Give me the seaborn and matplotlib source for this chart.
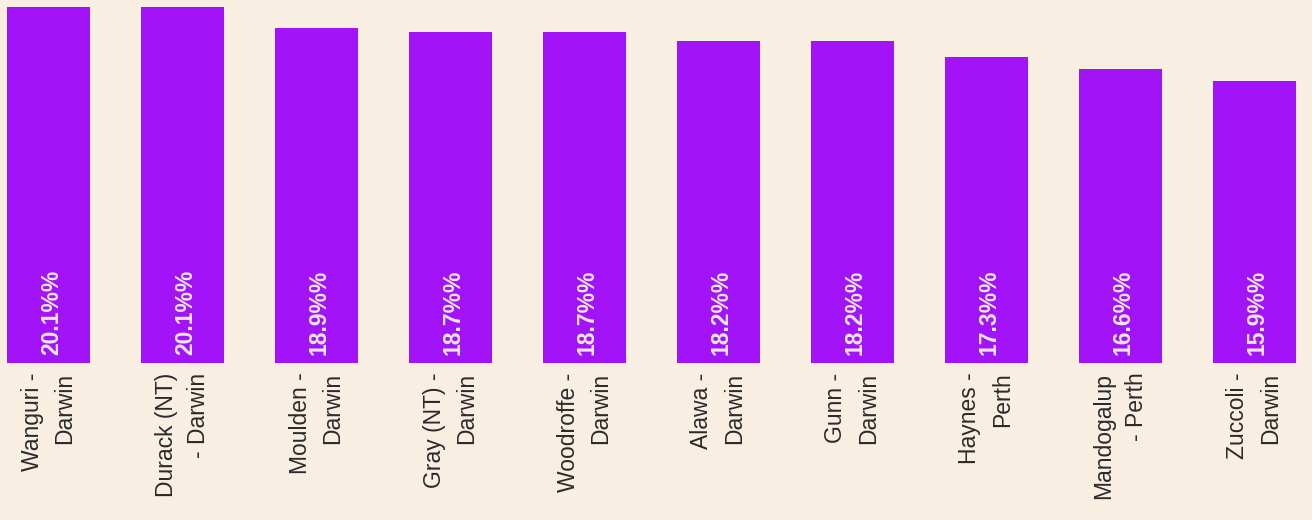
import matplotlib
matplotlib.use("Agg")
import matplotlib.pyplot as plt
import seaborn as sns
import pandas as pd

suburbs = [
    "Wanguri -\nDarwin", "Durack (NT)\n- Darwin", "Moulden -\nDarwin",
    "Gray (NT) -\nDarwin", "Woodroffe -\nDarwin", "Alawa -\nDarwin",
    "Gunn -\nDarwin", "Haynes -\nPerth", "Mandogalup\n- Perth",
    "Zuccoli -\nDarwin",
]
share = [20.1, 20.1, 18.9, 18.7, 18.7, 18.2, 18.2, 17.3, 16.6, 15.9]
share_labels = ["%.1f%%%%" % v for v in share]

df = pd.DataFrame({"suburb": suburbs, "share": share})

bg = "#F8EFE2"
bar_color = "#A313F7"

sns.set_theme(style="white")
plt.rcParams["font.family"] = ["Liberation Sans", "DejaVu Sans"]

fig = plt.figure(figsize=(13.12, 5.2), dpi=100, facecolor=bg)
ax = fig.add_axes([0, 0.302, 1, 0.6845])
ax.set_facecolor(bg)

sns.barplot(data=df, x="suburb", y="share", color=bar_color, width=0.62,
            saturation=1, linewidth=0, ax=ax)

for i, lab in enumerate(share_labels):
    ax.annotate(lab, xy=(i, 0), xytext=(2, 5.5), textcoords="offset points",
                rotation=90, ha="center", va="bottom", fontsize=16.5,
                color="#F2E8F2", fontweight="bold")

ax.set_xlim(-0.362, 9.43)
ax.set_ylim(0, 20.1)
ax.set_xlabel("")
ax.set_ylabel("")
ax.set_yticks([])
ax.set_xticks(range(len(suburbs)))
ax.set_xticklabels(suburbs, rotation=90, ha="center", va="top",
                   multialignment="right", fontsize=16.5, color="#2a2a2a",
                   linespacing=1.55)
ax.tick_params(axis="x", length=0, pad=7)
for s in ax.spines.values():
    s.set_visible(False)

fig.savefig("out.png", dpi=100, facecolor=bg)
